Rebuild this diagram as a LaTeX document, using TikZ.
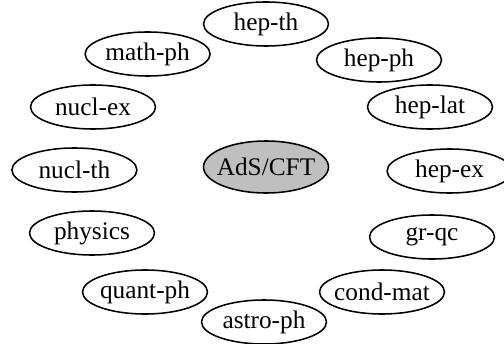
\documentclass[tikz,border=0pt]{standalone}
\usepackage{fontspec}
\setmainfont{Liberation Serif}
\usetikzlibrary{shapes.geometric}
\newcommand{\lbl}[1]{\makebox[0pt]{#1}}
\tikzset{
  cat/.style={ellipse, draw, line width=1.1pt, minimum width=3.125cm,
    minimum height=1.1cm, inner sep=0pt,
    font=\fontsize{18}{21}\selectfont},
  hub/.style={cat, fill=gray!50, minimum height=1.3cm}
}
\begin{document}
\begin{tikzpicture}[line cap=round, line join=round]
  \useasboundingbox (-6.65,-4.4) rectangle (5.95,4.175);
  % 中心のノード
  \node[hub] (ads) at (0,0) {\lbl{AdS/CFT}};
  % --- 周りの分野(上から時計回り) ---
  \node[cat] (hepth)   at (0,3.575)      {\lbl{hep-th}};
  \node[cat] (hepph)   at (2.825,2.675)  {\lbl{hep-ph}};
  \node[cat] (heplat)  at (4.1,1.5)      {\lbl{hep-lat}};
  \node[cat] (hepex)   at (4.59,-0.1)    {\lbl{hep-ex}};
  \node[cat] (grqc)    at (4.15,-1.75)   {\lbl{gr-qc}};
  \node[cat] (condmat) at (2.9,-3.125)   {\lbl{cond-mat}};
  \node[cat] (astroph) at (-0.05,-3.875) {\lbl{astro-ph}};
  \node[cat] (quantph) at (-3.025,-3.125){\lbl{quant-ph}};
  \node[cat] (physics) at (-4.35,-1.65)  {\lbl{physics}};
  \node[cat] (nuclth)  at (-4.79,-0.075) {\lbl{nucl-th}};
  \node[cat] (nuclex)  at (-4.325,1.5)   {\lbl{nucl-ex}};
  \node[cat] (mathph)  at (-2.96,2.825)  {\lbl{math-ph}};
\end{tikzpicture}
\end{document}
